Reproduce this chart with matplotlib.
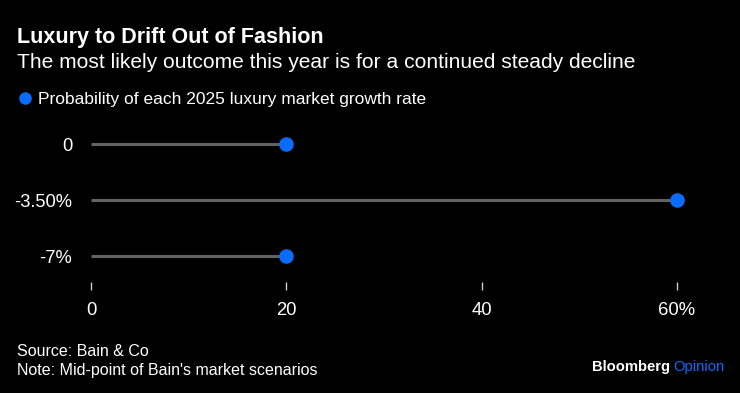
import matplotlib
matplotlib.use('Agg')
import matplotlib.pyplot as plt

plt.rcParams['font.family'] = ['Liberation Sans', 'DejaVu Sans']

categories = ["0", "-3.50%", "-7%"]
probabilities = [20, 60, 20]
x_ticks = [0, 20, 40, 60]
x_tick_labels = ["0", "20", "40", "60%"]

BLUE = '#0a6cff'
W, H = 740, 393
fig = plt.figure(figsize=(W / 100, H / 100), dpi=100, facecolor='black')

ax = fig.add_axes([91 / W, 1 - 290 / H, 586 / W, 174 / H])
ax.set_facecolor('black')
ypos = list(range(len(categories)))[::-1]
ax.hlines(ypos, 0, probabilities, color='#626262', lw=2.2, zorder=1)
ax.scatter(probabilities, ypos, s=110, color=BLUE, zorder=2, clip_on=False, linewidths=0)
ax.set_xlim(0, 60)
ax.set_ylim(-0.607, 2.5)
ax.set_yticks(ypos, categories)
ax.set_xticks(x_ticks, x_tick_labels)
ax.tick_params(axis='y', length=0, pad=13.5, labelsize=13.2, labelcolor='white')
ax.tick_params(axis='x', direction='in', length=6, width=1, color='#cccccc',
               pad=8.5, labelsize=13.3, labelcolor='white')
for s in ax.spines.values():
    s.set_visible(False)

fig.text(17 / W, 1 - 43.3 / H, "Luxury to Drift Out of Fashion", color='white',
         fontsize=15.5, fontweight='bold', va='baseline', ha='left')
fig.text(17 / W, 1 - 68.3 / H, "The most likely outcome this year is for a continued steady decline",
         color='white', fontsize=15.1, va='baseline', ha='left')
fig.lines.append(plt.Line2D([25 / W], [1 - 98.3 / H], marker='o', markersize=8,
                            color=BLUE, transform=fig.transFigure, figure=fig))
fig.text(38 / W, 1 - 104.3 / H, "Probability of each 2025 luxury market growth rate",
         color='white', fontsize=12.5, va='baseline', ha='left')

fig.text(17 / W, 1 - 356 / H, "Source: Bain & Co", color='white', fontsize=11.5,
         va='baseline', ha='left')
fig.text(17 / W, 1 - 375 / H, "Note: Mid-point of Bain's market scenarios", color='white',
         fontsize=11.5, va='baseline', ha='left')
t1 = fig.text(592 / W, 1 - 371 / H, "Bloomberg", color='white', fontsize=10.6,
              fontweight='bold', va='baseline', ha='left')
fig.canvas.draw()
bb = t1.get_window_extent()
fig.text((bb.x1 + 3) / W, 1 - 371 / H, "Opinion", color=BLUE, fontsize=10.6,
         va='baseline', ha='left')

fig.savefig('out.png', dpi=100, facecolor='black')
